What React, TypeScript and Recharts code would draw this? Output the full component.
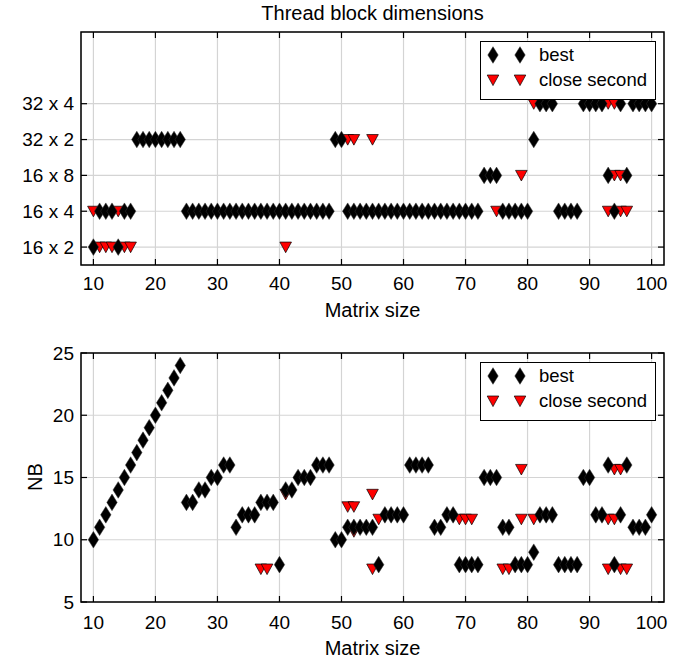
import React from "react";
import { ScatterChart, Scatter, XAxis, YAxis, CartesianGrid, ReferenceArea } from "recharts";

// matrix sizes 10..100
const sizes = [
  10, 11, 12, 13, 14, 15, 16, 17, 18, 19, 20, 21, 22, 23, 24, 25, 26, 27, 28, 29,
  30, 31, 32, 33, 34, 35, 36, 37, 38, 39, 40, 41, 42, 43, 44, 45, 46, 47, 48, 49,
  50, 51, 52, 53, 54, 55, 56, 57, 58, 59, 60, 61, 62, 63, 64, 65, 66, 67, 68, 69,
  70, 71, 72, 73, 74, 75, 76, 77, 78, 79, 80, 81, 82, 83, 84, 85, 86, 87, 88, 89,
  90, 91, 92, 93, 94, 95, 96, 97, 98, 99, 100,
];
const sizeTicks = [10, 20, 30, 40, 50, 60, 70, 80, 90, 100];

// thread block dims: 1 = 16x2, 2 = 16x4, 3 = 16x8, 4 = 32x2, 5 = 32x4
const dimLabels = ["16 x 2", "16 x 4", "16 x 8", "32 x 2", "32 x 4"];
const dimTicks = [1, 2, 3, 4, 5];
const bestDim = [
  1, 2, 2, 2, 1, 2, 2, 4, 4, 4, 4, 4, 4, 4, 4, 2, 2, 2, 2, 2,
  2, 2, 2, 2, 2, 2, 2, 2, 2, 2, 2, 2, 2, 2, 2, 2, 2, 2, 2, 4,
  4, 2, 2, 2, 2, 2, 2, 2, 2, 2, 2, 2, 2, 2, 2, 2, 2, 2, 2, 2,
  2, 2, 2, 3, 3, 3, 2, 2, 2, 2, 2, 4, 5, 5, 5, 2, 2, 2, 2, 5,
  5, 5, 5, 3, 2, 5, 3, 5, 5, 5, 5,
];
const secondDimSize = [10, 11, 12, 13, 14, 15, 16, 41, 51, 52, 55, 75, 79, 81, 93, 93, 94, 94, 95, 95, 96];
const secondDim = [2, 1, 1, 1, 2, 1, 1, 1, 4, 4, 4, 2, 3, 5, 2, 5, 3, 5, 3, 2, 2];

// NB
const nbTicks = [5, 10, 15, 20, 25];
const bestNB = [
  10, 11, 12, 13, 14, 15, 16, 17, 18, 19, 20, 21, 22, 23, 24,
  13, 13, 14, 14, 15, 15, 16, 16, 11, 12,
  12, 12, 13, 13, 13, 8, 14, 14, 15, 15,
  15, 16, 16, 16, 10, 10, 11, 11, 11, 11,
  11, 8, 12, 12, 12, 12, 16, 16, 16, 16,
  11, 11, 12, 12, 8, 8, 8, 8, 15, 15,
  15, 11, 11, 8, 8, 8, 9, 12, 12, 12,
  8, 8, 8, 8, 15, 15, 12, 12, 16, 8,
  12, 16, 11, 11, 11, 12,
];
const secondNBSize = [37, 38, 41, 51, 52, 52, 55, 55, 56, 69, 70, 71, 76, 77, 79, 79, 81, 93, 93, 94, 94, 95, 95, 96];
const secondNB = [
  7.65, 7.65, 13.65, 12.65, 12.65, 10.65, 13.65, 7.65, 11.65, 11.65, 11.65, 11.65,
  7.65, 7.65, 15.65, 11.65, 11.65, 11.65, 7.65, 11.65, 15.65, 15.65, 7.65, 7.65,
];

const FONT = '"Liberation Sans", Arial, Helvetica, sans-serif';
const W = 687;
const PLOT_LEFT = 81;
const PLOT_RIGHT = 664;
const TICK_FS = 19;
const LABEL_FS = 20;

const topBest = sizes.map((s, i) => ({ x: s, y: bestDim[i] }));
const topSecond = secondDimSize.map((s, i) => ({ x: s, y: secondDim[i] }));
const botBest = sizes.map((s, i) => ({ x: s, y: bestNB[i] }));
const botSecond = secondNBSize.map((s, i) => ({ x: s, y: secondNB[i] }));

const Diamond = (props: any) => {
  const { cx, cy } = props;
  return (
    <polygon
      points={`${cx},${cy - 8.3} ${cx + 5.2},${cy} ${cx},${cy + 8.3} ${cx - 5.2},${cy}`}
      fill="#000"
      stroke="#333"
      strokeWidth={0.5}
    />
  );
};

const TriDown = (props: any) => {
  const { cx, cy } = props;
  return (
    <polygon
      points={`${cx - 5.8},${cy - 5} ${cx + 5.8},${cy - 5} ${cx},${cy + 5.6}`}
      fill="#ff0000"
      stroke="#000"
      strokeWidth={0.7}
    />
  );
};

const xTick = (top: number, gap: number) => (props: any) => {
  const { x, y, payload } = props;
  return (
    <g>
      <line x1={x} x2={x} y1={y} y2={y - 6} stroke="#000" strokeWidth={1.2} />
      <line x1={x} x2={x} y1={top} y2={top + 6} stroke="#000" strokeWidth={1.2} />
      <text x={x} y={y + gap} textAnchor="middle" dominantBaseline="central" fontSize={TICK_FS} fontFamily={FONT} fill="#000">
        {payload.value}
      </text>
    </g>
  );
};

const yTick = (fmt: (v: number) => string) => (props: any) => {
  const { y, payload } = props;
  return (
    <g>
      <line x1={PLOT_LEFT} x2={PLOT_LEFT + 6} y1={y} y2={y} stroke="#000" strokeWidth={1.2} />
      <line x1={PLOT_RIGHT} x2={PLOT_RIGHT - 6} y1={y} y2={y} stroke="#000" strokeWidth={1.2} />
      <text x={PLOT_LEFT - 7} y={y} textAnchor="end" dominantBaseline="central" fontSize={TICK_FS} fontFamily={FONT} fill="#000">
        {fmt(payload.value)}
      </text>
    </g>
  );
};

const LegendBox = ({ top }: { top: number }) => (
  <div
    style={{
      position: "absolute",
      left: 480,
      top,
      width: 176,
      height: 59,
      border: "1.5px solid #000",
      background: "#fff",
      boxSizing: "border-box",
      fontFamily: FONT,
      fontSize: 18.5,
    }}
  >
    <svg width={60} height={56} style={{ position: "absolute", left: 0, top: 0 }}>
      <Diamond cx={12} cy={13} />
      <Diamond cx={39} cy={13} />
      <TriDown cx={12} cy={38} />
      <TriDown cx={39} cy={38} />
    </svg>
    <div style={{ position: "absolute", left: 58, top: 3, lineHeight: "20px" }}>best</div>
    <div style={{ position: "absolute", left: 58, top: 28, lineHeight: "20px" }}>close second</div>
  </div>
);

export default function App() {
  return (
    <div style={{ position: "fixed", left: 0, top: 0, width: W, height: 659, overflow: "hidden", background: "#fff", fontFamily: FONT }}>
      <div style={{ position: "absolute", left: PLOT_LEFT, width: PLOT_RIGHT - PLOT_LEFT, top: 2, lineHeight: "22px", textAlign: "center", fontSize: LABEL_FS }}>
        Thread block dimensions
      </div>

      <div style={{ position: "absolute", left: 0, top: 0 }}>
        <ScatterChart width={W} height={330} margin={{ top: 32, right: 23, left: 11, bottom: 35 }}>
          <CartesianGrid stroke="#d4d4d4" strokeWidth={1.2} />
          <XAxis
            type="number"
            dataKey="x"
            domain={[8, 102]}
            ticks={sizeTicks}
            height={30}
            axisLine={false}
            tickLine={false}
            tickSize={0}
            tickMargin={0}
            tick={xTick(32, 18)}
            interval={0}
          />
          <YAxis
            type="number"
            dataKey="y"
            domain={[0.5, 7]}
            ticks={dimTicks}
            width={70}
            axisLine={false}
            tickLine={false}
            tickSize={0}
            tickMargin={0}
            tick={yTick((v) => dimLabels[v - 1])}
            interval={0}
          />
          <Scatter data={topSecond} shape={TriDown} isAnimationActive={false} />
          <Scatter data={topBest} shape={Diamond} isAnimationActive={false} />
          <ReferenceArea x1={8} x2={102} y1={0.5} y2={7} fill="none" stroke="#000" strokeWidth={1.5} />
        </ScatterChart>
      </div>
      <LegendBox top={41} />
      <div style={{ position: "absolute", left: PLOT_LEFT, width: PLOT_RIGHT - PLOT_LEFT, top: 299, lineHeight: "22px", textAlign: "center", fontSize: LABEL_FS }}>
        Matrix size
      </div>

      <div style={{ position: "absolute", left: 0, top: 330 }}>
        <ScatterChart width={W} height={329} margin={{ top: 23, right: 23, left: 11, bottom: 27 }}>
          <CartesianGrid stroke="#d4d4d4" strokeWidth={1.2} />
          <XAxis
            type="number"
            dataKey="x"
            domain={[8, 102]}
            ticks={sizeTicks}
            height={30}
            axisLine={false}
            tickLine={false}
            tickSize={0}
            tickMargin={0}
            tick={xTick(23, 20)}
            interval={0}
          />
          <YAxis
            type="number"
            dataKey="y"
            domain={[5, 25]}
            ticks={nbTicks}
            width={70}
            axisLine={false}
            tickLine={false}
            tickSize={0}
            tickMargin={0}
            tick={yTick((v) => String(v))}
            interval={0}
          />
          <Scatter data={botSecond} shape={TriDown} isAnimationActive={false} />
          <Scatter data={botBest} shape={Diamond} isAnimationActive={false} />
          <ReferenceArea x1={8} x2={102} y1={5} y2={25} fill="none" stroke="#000" strokeWidth={1.5} />
        </ScatterChart>
      </div>
      <LegendBox top={362} />
      <div style={{ position: "absolute", left: PLOT_LEFT, width: PLOT_RIGHT - PLOT_LEFT, top: 637, lineHeight: "22px", textAlign: "center", fontSize: LABEL_FS }}>
        Matrix size
      </div>
      <div style={{ position: "absolute", left: 10, top: 466, width: 50, lineHeight: "22px", textAlign: "center", fontSize: LABEL_FS, transform: "rotate(-90deg)" }}>
        NB
      </div>
    </div>
  );
}
